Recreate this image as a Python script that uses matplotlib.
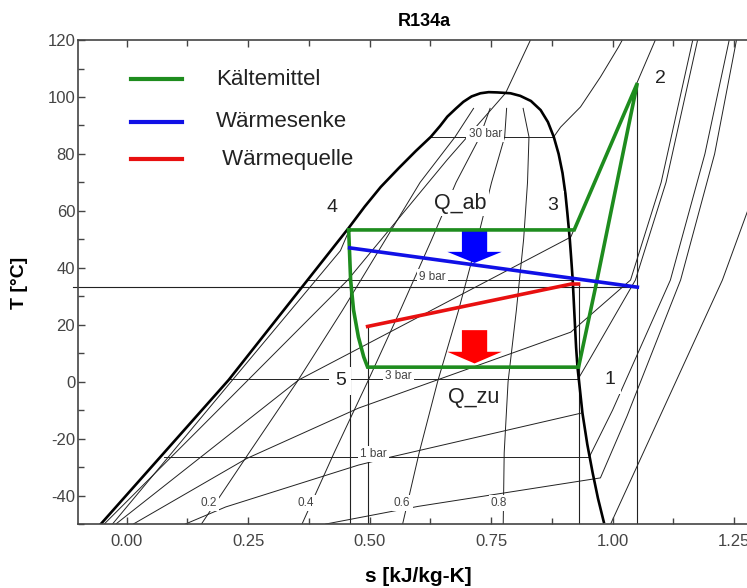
import numpy as np
import matplotlib.pyplot as plt
from matplotlib.patches import Polygon

plt.rcParams['font.family'] = ['Liberation Sans', 'DejaVu Sans']
plt.rcParams['axes.unicode_minus'] = False

# saturation dome (liquid side -> critical point -> vapour side)
dome_s = [-0.053, 0.21, 0.457, 0.49, 0.523, 0.56, 0.595, 0.626, 0.645, 0.66, 0.678, 0.693,
          0.71, 0.728, 0.745, 0.763, 0.79, 0.81, 0.832, 0.852, 0.867, 0.879, 0.889, 0.897,
          0.903, 0.907, 0.912, 0.915, 0.918, 0.922, 0.925, 0.928, 0.933, 0.938, 0.948,
          0.959, 0.97, 0.982]
dome_T = [-50, 0.6, 54, 61.5, 68.4, 75, 81, 86, 89.8, 93.1, 96, 98.3,
          100.2, 101.3, 101.7, 101.6, 101.3, 100.4, 98.6, 95.4, 91.2, 86, 80, 73.3,
          66, 59.2, 50, 43, 35.7, 22, 12, 4.8, -3, -11, -22,
          -32, -41, -49.3]

# isobars inside the dome
bar_names = ['30 bar', '9 bar', '3 bar', '1 bar']
bar_T = [86, 35.7, 0.9, -26.5]
bar_s_liq = [0.626, 0.372, 0.21, 0.076]
bar_s_vap = [0.879, 0.918, 0.929, 0.952]
bar_label_s = [0.738, 0.63, 0.56, 0.508]

# lines of constant vapour quality
quality_names = ['0.2', '0.4', '0.6', '0.8']
quality_T = [96, 86, 70, 50, 25, 0, -25, -50]
quality_s = [
    [0.714, 0.676, 0.604, 0.533, 0.444, 0.351, 0.252, 0.154],
    [0.748, 0.727, 0.678, 0.628, 0.563, 0.496, 0.427, 0.361],
    [0.782, 0.778, 0.751, 0.722, 0.683, 0.640, 0.602, 0.568],
    [0.816, 0.828, 0.825, 0.817, 0.802, 0.785, 0.777, 0.775],
]
quality_label_s = [0.169, 0.368, 0.567, 0.766]

# other thin property lines (isochores, superheated isobars)
thin_lines = [
    ([-0.029, 0.218, 0.44, 0.455], [-50, 0.6, 46, 52]),
    ([-0.046, 0.152, 0.455, 0.66, 0.78, 0.831], [-50, -16.2, 35.7, 78, 101.4, 120]),
    ([-0.022, 0.354, 0.477, 0.914, 1.0, 1.088], [-50, 0.6, 11.6, 50.8, 85, 120]),
    ([0.014, 0.247, 0.477, 0.914, 1.037, 1.10, 1.165], [-50, -27, -9.3, 17.4, 35.7, 70, 120]),
    ([0.121, 0.204, 0.477, 0.543, 0.934], [-50, -44, -29.3, -26.5, -11.1]),
    ([0.41, 0.60, 0.975, 1.03, 1.14, 1.21, 1.255], [-50, -43.8, -33.8, -12, 35.7, 80, 120]),
    ([0.952, 1.0, 1.119, 1.19, 1.24], [-26.5, -10, 35.7, 80, 120]),
    ([0.929, 0.95, 1.047, 1.11, 1.175], [0.9, 7, 35.7, 70, 120]),
    ([0.879, 0.893, 0.934, 0.975, 1.012, 1.02], [86, 89.4, 96.5, 107, 117.5, 120]),
    ([0.996, 1.226, 1.31], [-50, 35.7, 75]),
]

# refrigerant cycle 4 -> 3 -> 2 -> 1 -> 5 -> 4
cycle_s = [0.457, 0.921, 1.051, 0.965, 0.93, 0.496, 0.488, 0.477, 0.467, 0.461, 0.457]
cycle_T = [53.3, 53.3, 104.9, 33.2, 5.1, 5.1, 8.7, 15.7, 25.2, 35.7, 53.3]

sink_s = [0.459, 1.051]
sink_T = [47, 33.2]
source_s = [0.496, 0.915, 0.93]
source_T = [19.4, 34.3, 34.3]

# projection lines
level_T = 33.2
drop_s = [0.459, 0.496, 0.93, 1.051]
drop_top = [33.2, 19.4, 34.3, 104.9]

# heat flow arrows: top, head base, tip
arrow_s = 0.716
arrow_blue_T = [53.3, 45.6, 41.7]
arrow_red_T = [18.1, 10.5, 6.4]

point_names = ['1', '2', '3', '4', '5']
point_s = [0.994, 1.099, 0.877, 0.422, 0.44]
point_T = [0.6, 106.6, 62, 61.3, 0.3]
heat_names = ['Q_ab', 'Q_zu']
heat_s = [0.687, 0.714]
heat_T = [62.7, -5.7]

legend_names = ['Kältemittel', 'Wärmesenke', ' Wärmequelle']
green = '#1e8c1e'
blue = '#1010e6'
red = '#e81010'
legend_colors = [green, blue, red]

fig = plt.figure(figsize=(7.47, 5.88), dpi=100)
ax = fig.add_axes([0.1044, 0.1088, 0.9108, 0.8231])
thin = dict(color='#222222', lw=0.7, zorder=1)

ax.plot(dome_s, dome_T, color='black', lw=1.9, zorder=2)
for s, T in thin_lines:
    ax.plot(s, T, **thin)
for name, T, s0, s1, sl in zip(bar_names, bar_T, bar_s_liq, bar_s_vap, bar_label_s):
    ax.plot([s0, s1], [T, T], **thin)
    ax.text(sl, T + 1, name, fontsize=8.5, color='#444444', ha='center', va='center',
            bbox=dict(facecolor='white', edgecolor='none', pad=1.5), zorder=3)
for name, s, sl in zip(quality_names, quality_s, quality_label_s):
    ax.plot(s, quality_T, **thin)
    ax.text(sl, -42.5, name, fontsize=8.5, color='#444444', ha='center', va='center',
            bbox=dict(facecolor='white', edgecolor='none', pad=1.5), zorder=3)

ax.plot([-0.11, 1.051], [level_T, level_T], color='#222222', lw=0.8, clip_on=False, zorder=1)
for s, top in zip(drop_s, drop_top):
    ax.plot([s, s], [top, -50], color='#222222', lw=0.8, zorder=1)

ax.plot(cycle_s, cycle_T, color=green, lw=2.6, zorder=6, solid_joinstyle='miter')
ax.plot(sink_s, sink_T, color=blue, lw=2.6, zorder=6)
ax.plot(source_s, source_T, color=red, lw=2.6, zorder=6)

hs, hh = 0.026, 0.056
for Ts, col in [(arrow_blue_T, '#0000ff'), (arrow_red_T, '#ff0000')]:
    top, base, tip = Ts
    verts = [(arrow_s - hs, top), (arrow_s + hs, top), (arrow_s + hs, base),
             (arrow_s + hh, base), (arrow_s, tip), (arrow_s - hh, base), (arrow_s - hs, base)]
    ax.add_patch(Polygon(verts, closed=True, facecolor=col, edgecolor='none', zorder=5))

for name, s, T in zip(point_names, point_s, point_T):
    ax.text(s, T, name, fontsize=14, color='#222222', ha='center', va='center',
            bbox=dict(facecolor='white', edgecolor='none', pad=4), zorder=4)
for name, s, T in zip(heat_names, heat_s, heat_T):
    ax.text(s, T, name, fontsize=15.5, color='#222222', ha='center', va='center',
            bbox=dict(facecolor='white', edgecolor='none', pad=2), zorder=4)

for i, (name, col) in enumerate(zip(legend_names, legend_colors)):
    y = [0.919, 0.831, 0.754][i]
    ax.plot([0.078, 0.153], [y, y], color=col, lw=3, transform=ax.transAxes, zorder=7)
    ax.text(0.203, y, name, fontsize=16, color='#222222', va='center',
            transform=ax.transAxes, zorder=7)

ax.set_xticks(np.arange(0, 1.26, 0.25))
ax.set_xticklabels(['0.00', '0.25', '0.50', '0.75', '1.00', '1.25'])
ax.set_xticks(np.arange(0, 1.3, 0.125), minor=True)
ax.set_yticks(np.arange(-40, 121, 20))
ax.set_yticks(np.arange(-50, 121, 10), minor=True)
ax.set_xlim(-0.1, 1.3)
ax.set_ylim(-50, 120)
ax.tick_params(which='both', direction='in', top=True, right=True, colors='#444444',
               labelsize=12, width=1)
ax.tick_params(which='major', length=5)
ax.tick_params(which='minor', length=4)
ax.tick_params(axis='x', pad=7)
ax.tick_params(axis='y', pad=2)
for sp in ax.spines.values():
    sp.set_color('#444444')
    sp.set_linewidth(1.2)

fig.text(424 / 747, 1 - 22 / 588, 'R134a', ha='center', va='center', fontsize=13, fontweight='bold')
fig.text(418 / 747, 1 - 576 / 588, 's [kJ/kg-K]', ha='center', va='center', fontsize=15, fontweight='bold')
fig.text(19 / 747, 1 - 283 / 588, 'T [°C]', ha='center', va='center', rotation=90, fontsize=14, fontweight='bold')

fig.savefig('out.png', dpi=100)
